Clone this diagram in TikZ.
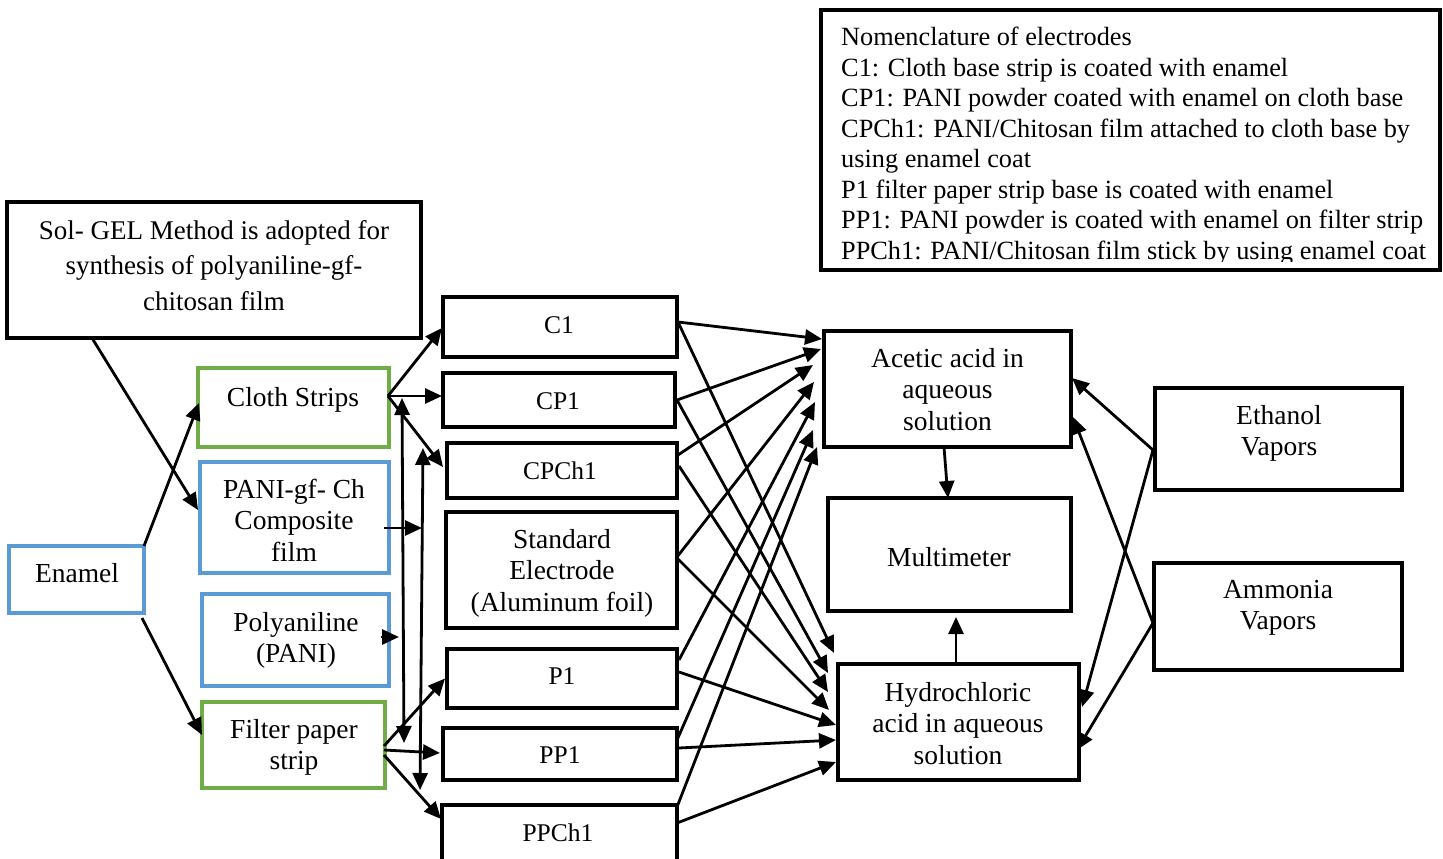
\documentclass[tikz,border=0pt]{standalone}
\usepackage{fontspec}
\setmainfont{Liberation Serif}
\usetikzlibrary{arrows.meta,calc,fit}
\definecolor{bblue}{HTML}{5B9BD5}
\definecolor{bgreen}{HTML}{70AD47}
\newcommand{\mlines}[1]{\begin{tabular}[t]{@{}c@{}}#1\end{tabular}}
\newcommand{\llines}[1]{\begin{tabular}[t]{@{}l@{}}#1\end{tabular}}
\begin{document}
\begin{tikzpicture}[x=1pt,y=-1pt,
  bx/.style={draw=black, line width=3.2pt, inner sep=0pt, outer sep=0pt, fit={#1}},
  bxb/.style={bx={#1}, draw=bblue},
  bxg/.style={bx={#1}, draw=bgreen},
  cam/.style={font=\fontsize{27.5}{31.5}\selectfont, inner sep=0pt, anchor=base},
  tms/.style={font=\fontsize{25.5}{30}\selectfont, inner sep=0pt, anchor=base},
  nomtxt/.style={font=\fontsize{26.3}{30.5}\selectfont, inner sep=0pt, anchor=base west},
  arr/.style={line width=2.8pt, -{Triangle[length=17pt,width=15pt]}},
  darr/.style={line width=2.8pt, {Triangle[length=17pt,width=15pt]}-{Triangle[length=17pt,width=15pt]}}
]
\useasboundingbox (0,0) rectangle (1443,859);

% ---------- boxes ----------
\node[bx={(7,202) (421,338)}] (sol) {};
\node[bxb={(9,546) (144,613)}] (enamel) {};
\node[bxg={(198,368) (389,447)}] (cloth) {};
\node[bxb={(200,462) (389,573)}] (pgc) {};
\node[bxb={(202,594) (389,686)}] (poly) {};
\node[bxg={(202,702) (385,788)}] (filter) {};
\node[bx={(443,297) (677,357)}] (c1) {};
\node[bx={(443,373) (675,427)}] (cp1) {};
\node[bx={(447,443) (677,498)}] (cpch1) {};
\node[bx={(446,512) (677,628)}] (std) {};
\node[bx={(447,649) (677,708)}] (p1) {};
\node[bx={(443,728) (677,780)}] (pp1) {};
\node[bx={(442,805) (677,880)}] (ppch1) {};
\node[bx={(824,331) (1071,447)}] (acetic) {};
\node[bx={(828,498) (1071,611)}] (multi) {};
\node[bx={(838,664) (1079,780)}] (hcl) {};
\node[bx={(1155,388) (1402,490)}] (eth) {};
\node[bx={(1154,563) (1402,670)}] (amm) {};
\node[bx={(821,10) (1440,270)}] (nom) {};

% ---------- texts ----------
\node[cam, font=\fontsize{27}{35.5}\selectfont] (tsol) at (214,239) {\mlines{Sol- GEL Method is adopted for\\ synthesis of polyaniline-gf-\\ chitosan film}};
\node[cam] (tenamel) at (77,582) {Enamel};
\node[cam] (tcloth) at (293,406) {Cloth Strips};
\node[cam] (tpgc) at (294,498) {\mlines{PANI-gf- Ch\\ Composite\\ film}};
\node[cam] (tpoly) at (296,631) {\mlines{Polyaniline\\ (PANI)}};
\node[cam] (tfilter) at (294,738) {\mlines{Filter paper\\ strip}};
\node[tms] (tc1) at (559,333) {C1};
\node[tms] (tcp1) at (558,409) {CP1};
\node[tms] (tcpch1) at (560,479) {CPCh1};
\node[cam] (tstd) at (562,548) {\mlines{Standard\\ Electrode\\ (Aluminum foil)}};
\node[tms] (tp1) at (562,684) {P1};
\node[tms] (tpp1) at (560,763) {PP1};
\node[tms] (tppch1) at (558,841) {PPCh1};
\node[cam] (tacetic) at (947.5,367) {\mlines{Acetic acid in\\ aqueous\\ solution}};
\node[cam] (tmulti) at (949,566) {Multimeter};
\node[cam] (thcl) at (958,701) {\mlines{Hydrochloric\\ acid in aqueous\\ solution}};
\node[cam] (teth) at (1279,424) {\mlines{Ethanol\\ Vapors}};
\node[cam] (tamm) at (1278,598) {\mlines{Ammonia\\ Vapors}};
\begin{scope}
\clip (821,10) rectangle (1440,261);
\node[nomtxt] (tnom) at (841,46) {\llines{Nomenclature of electrodes\\
C1: Cloth base strip is coated with enamel\\
CP1: PANI powder coated with enamel on cloth base\\
CPCh1: PANI/Chitosan film attached to cloth base by\\
using enamel coat\\
P1 filter paper strip base is coated with enamel\\
PP1: PANI powder is coated with enamel on filter strip\\
PPCh1: PANI/Chitosan film stick by using enamel coat}};
\end{scope}

% ---------- left connectors ----------
\draw[arr] (enamel.north east) -- ($(cloth.west)+(1,-4.5)$);
\draw[arr] ($(enamel.south east)+(-2,5)$) -- ($(filter.west)+(0,-10)$);
\draw[arr] ($(sol.south west)+(85,0)$) -- ($(pgc.west)+(-2,-7.5)$);
\draw[arr] ($(cloth.east)+(-1,-11.5)$) -- ($(c1.west)+(-1,1)$);
\draw[arr] ($(cloth.east)+(-1,-11.5)$) -- ($(cp1.west)+(-1,-4)$);
\draw[arr] ($(cloth.east)+(-1,-11.5)$) -- ($(cpch1.west)+(-4,-3.5)$);
\draw[arr] ($(filter.east)+(-1,1)$) -- ($(p1.west)+(-2,0)$);
\draw[arr] ($(filter.east)+(-1,5)$) -- ($(pp1.west)+(-3,-1)$);
\draw[arr] ($(filter.east)+(-1,10)$) -- ($(ppch1.west)+(-1,-23.5)$);
\coordinate (v1t) at (402,398);
\coordinate (v1b) at (404,743);
\coordinate (v2t) at (423,448);
\coordinate (v2b) at (420,790);
\coordinate (v2m) at (422,528);
\coordinate (polytip) at (399,637);
\draw[darr] (v1t) -- (v1b);
\draw[darr] (v2t) -- (v2b);
\draw[arr] ($(pgc.east)+(-5,10.5)$) -- (v2m);
\draw[arr] ($(poly.east)+(-8,-3)$) -- (polytip);

% ---------- electrodes to acetic acid ----------
\draw[arr] ($(c1.east)+(1,-5)$) -- ($(acetic.west)+(-2,-50)$);
\draw[arr] ($(cp1.east)+(2,0)$) -- ($(acetic.west)+(-3,-40)$);
\draw[arr] ($(cpch1.east)+(1,-15.5)$) -- ($(acetic.west)+(-11,-24)$);
\draw[arr] ($(std.east)+(0,-13)$) -- ($(acetic.west)+(-10,-7)$);
\draw[arr] ($(p1.east)+(2,-18.5)$) -- ($(acetic.west)+(-9,13)$);
\draw[arr] ($(pp1.east)+(0,-14)$) -- ($(acetic.west)+(-11,41)$);
\draw[arr] ($(ppch1.east)+(0,-35.5)$) -- ($(acetic.west)+(-7,58)$);

% ---------- electrodes to hydrochloric acid ----------
\draw[arr] ($(c1.east)+(1,-5)$) -- ($(hcl.west)+(-4,-69)$);
\draw[arr] ($(cp1.east)+(2,0)$) -- ($(hcl.west)+(-10,-49)$);
\draw[arr] ($(cpch1.east)+(2,-4.5)$) -- ($(hcl.west)+(-10,-30)$);
\draw[arr] ($(std.east)+(0,-12)$) -- ($(hcl.west)+(-9,-12)$);
\draw[arr] ($(p1.east)+(2,-6.5)$) -- ($(hcl.west)+(-2,3)$);
\draw[arr] ($(pp1.east)+(2,-6)$) -- ($(hcl.west)+(-2,18)$);
\draw[arr] ($(ppch1.east)+(0,-19.5)$) -- ($(hcl.west)+(-2,40)$);

% ---------- right side ----------
\draw[arr] ($(acetic.south)+(-3.5,0)$) -- ($(multi.north)+(-1.5,0)$);
\draw[arr] ($(hcl.north)+(-2.5,0)$) -- ($(multi.south)+(6.5,6)$);
\draw[arr] ($(eth.west)+(-2,11)$) -- ($(acetic.east)+(1,-11)$);
\draw[arr] ($(eth.west)+(-2,11)$) -- ($(hcl.east)+(3,-15)$);
\draw[arr] ($(amm.west)+(-1,6.5)$) -- ($(acetic.east)+(2,28)$);
\draw[arr] ($(amm.west)+(-1,6.5)$) -- ($(hcl.east)+(-2,28)$);
\end{tikzpicture}
\end{document}
